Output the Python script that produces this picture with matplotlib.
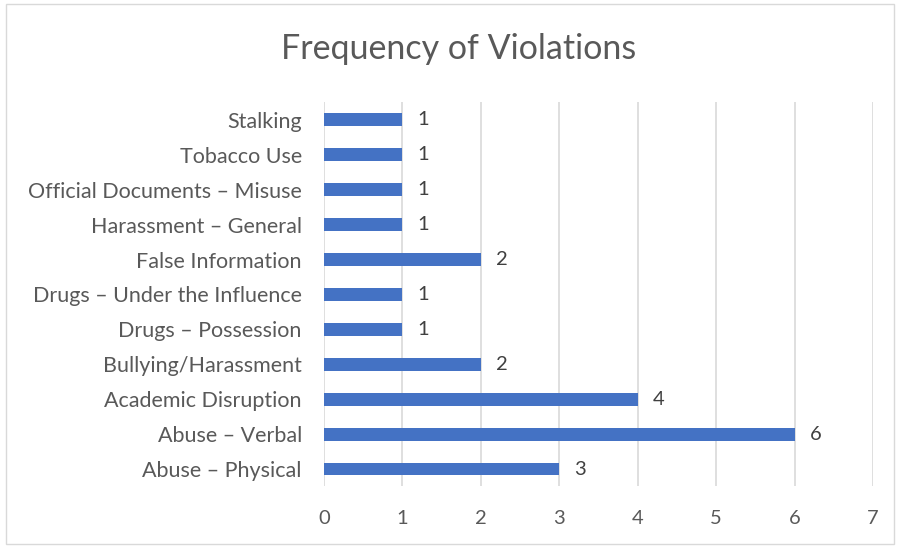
import matplotlib.pyplot as plt
from matplotlib.patches import Rectangle

categories = [
    'Abuse – Physical', 'Abuse – Verbal', 'Academic Disruption',
    'Bullying/Harassment', 'Drugs – Possession', 'Drugs – Under the Influence',
    'False Information', 'Harassment – General', 'Official Documents – Misuse',
    'Tobacco Use', 'Stalking',
]
counts = [3, 6, 4, 2, 1, 1, 2, 1, 1, 1, 1]
x_ticks = [0, 1, 2, 3, 4, 5, 6, 7]

plt.rcParams['font.family'] = ['Lato', 'DejaVu Sans']

fig = plt.figure(figsize=(8.97, 5.46), dpi=100)
ax = fig.add_axes([0.3612, 0.109, 0.612, 0.7033])

pos = list(range(len(categories)))
ax.barh(pos, counts, height=0.37, color='#4472C4', zorder=3)
for p, v in zip(pos, counts):
    ax.annotate(str(v), (v, p), xytext=(11, 0), textcoords='offset points',
                va='center', ha='left', fontsize=14.5, color='#404040')

ax.set_xlim(0, 7)
ax.set_ylim(-0.5, len(categories) - 0.5)
ax.set_xticks(x_ticks)
ax.set_yticks(pos)
ax.set_yticklabels(categories)
ax.grid(axis='x', color='#d9d9d9', linewidth=1.2, zorder=0)
for s in ax.spines.values():
    s.set_visible(False)
ax.tick_params(axis='both', length=0, labelsize=14.5, labelcolor='#595959')
ax.tick_params(axis='y', pad=16, labelsize=15.5)
ax.tick_params(axis='x', pad=17)

fig.text(0.511, 0.91, 'Frequency of Violations', ha='center', va='center',
         fontsize=24.5, color='#595959')

fig.patches.append(Rectangle((0.007, 0.003), 0.99, 0.99, transform=fig.transFigure,
                             fill=False, edgecolor='#d9d9d9', linewidth=1))

fig.savefig('out.png', dpi=100)
